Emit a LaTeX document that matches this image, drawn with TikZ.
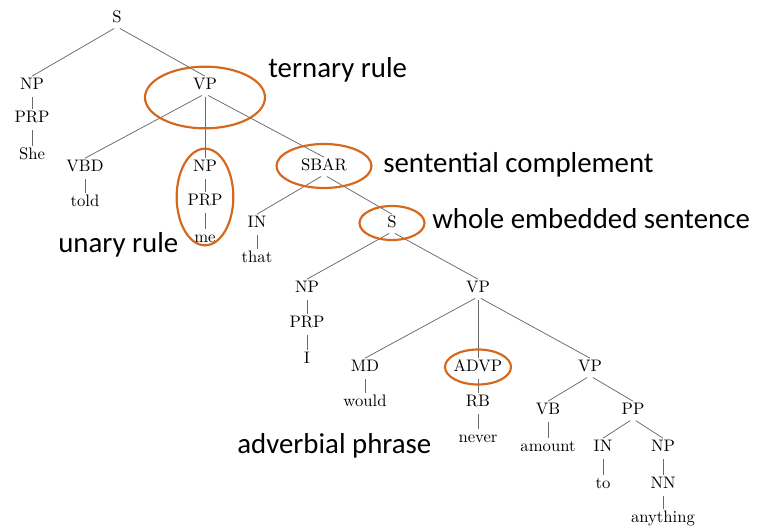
\documentclass[tikz,border=0pt]{standalone}
\usepackage{fontspec}
\newfontfamily\notefont{Carlito}
\definecolor{ringorange}{RGB}{214,104,30}
\definecolor{branchgray}{RGB}{105,105,105}

\begin{document}
\begin{tikzpicture}[x=0.6pt, y=-0.6pt,
	every node/.style={inner sep=1pt, text height=1.6ex, text depth=0.3ex},
	every edge/.style={draw, branchgray, line width=0.45pt, shorten <=2pt},
	ring/.style={draw=ringorange, line width=1.3pt},
	note/.style={anchor=base west, inner sep=0pt, font=\notefont\fontsize{17.3}{20}\selectfont}]
	
	\useasboundingbox (0,0) rectangle (762,532);
	
	\node (s) at (117,18) {S};
	\node (np1) at (32,85) {NP};
	\node (prp1) at (32,118) {PRP};
	\node (she) at (32,155) {She};
	\node (vp) at (205,85) {VP};
	\node (vbd) at (85,167) {VBD};
	\node (told) at (85,202) {told};
	\node (np2) at (205,167) {NP};
	\node (prp2) at (205,201) {PRP};
	\node (me) at (205,238) {me};
	\node (sbar) at (324,166) {SBAR};
	\node (in1) at (257,223) {IN};
	\node (that) at (257,258) {that};
	\node (s2) at (392,223) {S};
	\node (np3) at (307,288) {NP};
	\node (prp3) at (307,323) {PRP};
	\node (leafI) at (307,359) {I};
	\node (vp2) at (478,288) {VP};
	\node (md) at (365,367) {MD};
	\node (would) at (365,402) {would};
	\node (advp) at (478,367) {ADVP};
	\node (rb) at (478,402) {RB};
	\node (never) at (478,438) {never};
	\node (vp3) at (590,367) {VP};
	\node (vb) at (548,410) {VB};
	\node (amount) at (548,447) {amount};
	\node (pp) at (633,410) {PP};
	\node (in2) at (603,447) {IN};
	\node (to) at (603,484) {to};
	\node (np4) at (663,447) {NP};
	\node (nn) at (663,484) {NN};
	\node (anything) at (663,518) {anything};
	
	\path (s.south) edge (np1.north);
	\path (s.south) edge (vp.north);
	\path (np1.south) edge (prp1.north);
	\path (prp1.south) edge (she.north);
	
	\path (vp.south) edge (vbd.north);
	\path (vp.south) edge (np2.north);
	\path (vp.south) edge (sbar.north);
	\path (vbd.south) edge (told.north);
	\path (np2.south) edge (prp2.north);
	\path (prp2.south) edge (me.north);
	
	\path (sbar.south) edge (in1.north);
	\path (sbar.south) edge (s2.north);
	\path (in1.south) edge (that.north);
	
	\path (s2.south) edge (np3.north);
	\path (s2.south) edge (vp2.north);
	\path (np3.south) edge (prp3.north);
	\path (prp3.south) edge (leafI.north);
	
	\path (vp2.south) edge (md.north);
	\path (vp2.south) edge (advp.north);
	\path (vp2.south) edge (vp3.north);
	\path (md.south) edge (would.north);
	\path (advp.south) edge (rb.north);
	\path (rb.south) edge (never.north);
	
	\path (vp3.south) edge (vb.north);
	\path (vp3.south) edge (pp.north);
	\path (vb.south) edge (amount.north);
	\path (pp.south) edge (in2.north);
	\path (pp.south) edge (np4.north);
	\path (in2.south) edge (to.north);
	\path (np4.south) edge (nn.north);
	\path (nn.south) edge (anything.north);
	
	% highlighted constituents
	\draw[ring] ([yshift=-7.5pt]vp.center) ellipse (36pt and 18.5pt);
	\draw[ring] ([yshift=2.4pt]prp2.center) ellipse (17pt and 29pt);
	\draw[ring] (sbar.center) ellipse (28.5pt and 13.2pt);
	\draw[ring] (s2.center) ellipse (19.5pt and 10.2pt);
	\draw[ring] (advp.center) ellipse (19.8pt and 10.5pt);
	
	\node[note] (ternary) at (268,78) {ternary rule};
	\node[note] (sentential) at (383,173) {sentential complement};
	\node[note] (embedded) at (432,229) {whole embedded sentence};
	\node[note] (unary) at (58,252) {unary rule};
	\node[note] (adverbial) at (237,453) {adverbial phrase};

\end{tikzpicture}
\end{document}
